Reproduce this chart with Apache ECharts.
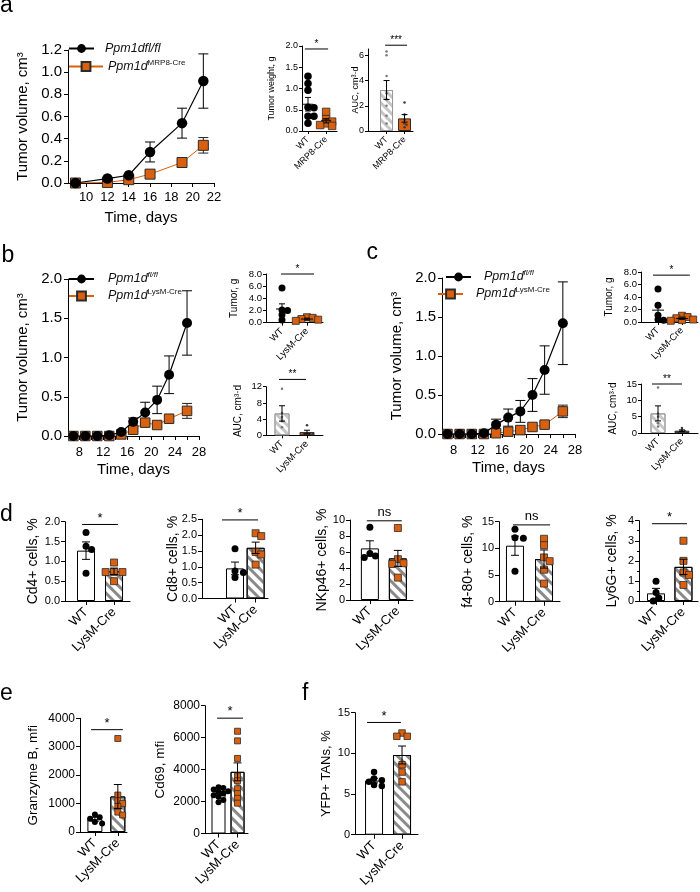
<!DOCTYPE html>
<html><head><meta charset="utf-8">
<script src="https://cdn.jsdelivr.net/npm/echarts@6/dist/echarts.min.js"></script>
<style>html,body{margin:0;padding:0;background:#fff}#c{width:700px;height:892px}</style>
</head><body><div id="c"></div><script>
// ---------------- data ----------------
const CATS_LYSM = ['WT', 'LysM-Cre'];
const CATS_MRP8 = ['WT', 'MRP8-Cre'];

// panel a (tumor growth)
const aDays = [9, 12, 14, 16, 19, 21];
const aFlMean = [0.00, 0.04, 0.07, 0.28, 0.54, 0.92];
const aFlSem = [0.00, 0.00, 0.00, 0.09, 0.135, 0.245];
const aCreMean = [0.00, 0.005, 0.03, 0.08, 0.185, 0.34];
const aCreSem = [0.00, 0.00, 0.00, 0.00, 0.025, 0.07];
const aTimeTicks = [10, 12, 14, 16, 18, 20, 22];
const aVolTicks = [0, 0.2, 0.4, 0.6, 0.8, 1.0, 1.2];

// panel b
const bDays = [7, 9, 11, 13, 15, 17, 19, 21, 23, 26];
const bFlMean = [0, 0, 0, 0.01, 0.05, 0.18, 0.30, 0.46, 0.78, 1.44];
const bFlSem = [0, 0, 0, 0, 0.02, 0.05, 0.13, 0.175, 0.24, 0.41];
const bCreMean = [0, 0, 0, 0, 0.02, 0.08, 0.17, 0.14, 0.22, 0.32];
const bCreSem = [0, 0, 0, 0, 0, 0.02, 0.03, 0.03, 0.04, 0.095];

// panel c
const cDays = [7, 9, 11, 13, 15, 17, 19, 21, 23, 26];
const cFlMean = [0, 0, 0, 0.01, 0.12, 0.21, 0.29, 0.50, 0.82, 1.42];
const cFlSem = [0, 0, 0, 0.01, 0.07, 0.11, 0.14, 0.21, 0.31, 0.53];
const cCreMean = [0, 0, 0, 0, 0.01, 0.03, 0.05, 0.09, 0.12, 0.29];
const cCreSem = [0, 0, 0, 0, 0, 0.01, 0.02, 0.02, 0.03, 0.08];
const bcTimeTicks = [8, 12, 16, 20, 24, 28];
const bcTimeMinor = [8, 10, 12, 14, 16, 18, 20, 22, 24, 26, 28];
const bcVolTicks = [0, 0.5, 1.0, 1.5, 2.0];

// small panels a
const aWeightWT = [1.29, 1.12, 0.96, 0.56, 0.55, 0.35, 0.35, 0.18];
const aWeightCre = [0.45, 0.28, 0.22, 0.18, 0.14, 0.12, 0.10];
const aWeightMean = [0.63, 0.24];
const aWeightSem = [0.16, 0.05];
const aAucWT = [6.3, 6.0, 4.35, 3.0, 2.5, 2.0, 1.2, 0.6];
const aAucCre = [2.25, 1.3, 0.9, 0.6, 0.5, 0.3];
const aAucMean = [3.25, 1.0];
const aAucSem = [0.75, 0.3];
// small panels b
const bTumWT = [5.7, 2.1, 2.0, 1.3, 0.45];
const bTumCre = [0.9, 0.8, 0.6, 0.5, 0.3];
const bTumMean = [2.25, 0.6];
const bTumSem = [0.85, 0.15];
const bAucWT = [11.5, 5.5, 4.5, 3.5, 2.0];
const bAucCre = [2.5, 0.5, 0.4, 0.3, 0.3];
const bAucMean = [5.4, 0.8];
const bAucSem = [1.9, 0.45];
// small panels c
const cTumWT = [5.3, 2.7, 1.1, 0.4, 0.3];
const cTumCre = [1.0, 0.8, 0.6, 0.4, 0.3, 0.2];
const cTumMean = [1.9, 0.55];
const cTumSem = [1.0, 0.12];
const cAucWT = [13.9, 6.0, 5.0, 3.0, 2.0];
const cAucCre = [1.5, 0.8, 0.5, 0.4, 0.3];
const cAucMean = [6.0, 0.7];
const cAucSem = [2.3, 0.25];
// panel d
const cd4WT = [1.73, 1.38, 1.30, 0.70];
const cd4Cre = [0.97, 0.73, 0.73, 0.73, 0.50];
const cd4Mean = [1.27, 0.75];
const cd4Sem = [0.22, 0.08];
const cd8WT = [1.57, 0.87, 0.82, 0.66];
const cd8Cre = [2.06, 1.97, 1.47, 1.39, 1.07];
const cd8Mean = [0.95, 1.60];
const cd8Sem = [0.20, 0.18];
const nkWT = [9.1, 5.8, 5.5, 5.3];
const nkCre = [9.0, 5.1, 4.6, 4.5, 2.8];
const nkMean = [6.45, 5.2];
const nkSem = [0.95, 1.0];
const f480WT = [13.6, 12.0, 11.9, 5.7];
const f480Cre = [11.8, 10.6, 8.3, 7.6, 6.0, 3.4];
const f480Mean = [10.5, 8.0];
const f480Sem = [1.8, 1.7];
const ly6gWT = [0.98, 0.42, 0.15, 0.0];
const ly6gCre = [3.0, 2.0, 1.42, 1.3, 0.8];
const ly6gMean = [0.38, 1.70];
const ly6gSem = [0.25, 0.38];
// panel e
const gzbWT = [620, 520, 470, 350, 300];
const gzbCre = [3290, 1300, 1100, 1000, 900, 700, 600];
const gzbMean = [450, 1250];
const gzbSem = [70, 420];
const cd69WT = [2900, 2850, 2750, 2650, 2600, 2500, 2400, 2300, 2100, 1950];
const cd69Cre = [6400, 5800, 4700, 3600, 3300, 2800, 2500, 2200, 1900];
const cd69Mean = [2500, 3860];
const cd69Sem = [100, 560];
// panel f
const yfpWT = [7.7, 6.9, 6.7, 6.5, 6.1, 6.0];
const yfpCre = [12.5, 12.1, 12.1, 8.6, 7.7, 6.5];
const yfpMean = [6.65, 9.8];
const yfpSem = [0.28, 1.1];

// ---------------- styles ----------------
const FONT = '"Liberation Sans", Arial, Helvetica, sans-serif';
const ORANGE = '#d8600f';
const EDGE = '#2b2b2b';
const HATCH = {symbol: 'rect', symbolSize: 1, dashArrayX: [1, 0], dashArrayY: [3, 4], rotation: Math.PI / 4, color: '#8a8a8a'};
const LIGHT_HATCH = {symbol: 'rect', symbolSize: 1, dashArrayX: [1, 0], dashArrayY: [3, 3], rotation: Math.PI / 4, color: '#c6c6c6'};
const BAR_STYLES = {
  white: {color: '#fff', borderColor: '#000', borderWidth: 1},
  hatch: {color: '#fff', borderColor: '#000', borderWidth: 1, decal: HATCH},
  light: {color: '#fff', borderColor: '#9a9a9a', borderWidth: 1, decal: LIGHT_HATCH},
  orange: {color: ORANGE, borderColor: EDGE, borderWidth: 1}
};

const grids = [], xAxes = [], yAxes = [], series = [], legends = [];

function lineAxis(extra) {
  return Object.assign({
    axisLine: {show: true, onZero: false, lineStyle: {color: '#000', width: 1}},
    splitLine: {show: false},
    nameMoveOverlap: false
  }, extra);
}

function errSeries(gi, data, color, capHalf, meanHalf) {
  return {
    type: 'custom', xAxisIndex: gi, yAxisIndex: gi, silent: true, z: 6, clip: false,
    data: data,
    renderItem: function (params, api) {
      const x = api.value(0), lo = api.value(1), hi = api.value(2), m = api.value(3);
      const t = api.coord([x, hi]), b = api.coord([x, lo]);
      const st = {stroke: color, lineWidth: 1};
      const ch = [
        {type: 'line', shape: {x1: t[0], y1: t[1], x2: b[0], y2: b[1]}, style: st},
        {type: 'line', shape: {x1: t[0] - capHalf, y1: t[1], x2: t[0] + capHalf, y2: t[1]}, style: st},
        {type: 'line', shape: {x1: b[0] - capHalf, y1: b[1], x2: b[0] + capHalf, y2: b[1]}, style: st}
      ];
      if (meanHalf) {
        const c = api.coord([x, m]);
        ch.push({type: 'line', shape: {x1: c[0] - meanHalf, y1: c[1], x2: c[0] + meanHalf, y2: c[1]}, style: st});
      }
      return {type: 'group', children: ch};
    }
  };
}

const LEGEND_TEXT = {
  aFl: '{i|Ppm1dfl/fl}',
  aCre: '{i|Ppm1d}{s|MRP8-Cre}',
  bFl: '{i|Ppm1d}{si|fl/fl}',
  bCre: '{i|Ppm1d}{s|LysM-Cre}',
  cFl: '{i|Ppm1d}{si|fl/fl}',
  cCre: '{i|Ppm1d}{s|LysM-Cre}'
};
function addLegend(name, left, cy, w, pad) {
  legends.push({
    data: [name], left: left, top: cy - 8, orient: 'vertical', itemWidth: w, itemHeight: 11, padding: 0,
    selectedMode: false,
    formatter: n => LEGEND_TEXT[n],
    textStyle: {
      color: '#000', fontFamily: FONT, fontSize: 12, padding: [0, 0, 0, pad],
      rich: {
        i: {fontSize: 12.5, fontStyle: 'italic', fontFamily: FONT, lineHeight: 16, color: '#111'},
        s: {fontSize: 8, fontFamily: FONT, verticalAlign: 'top', color: '#111'},
        si: {fontSize: 8, fontStyle: 'italic', fontFamily: FONT, verticalAlign: 'top', color: '#111'}
      }
    }
  });
}

function addLinePanel(p) {
  const gi = grids.length;
  grids.push({left: p.box[0], top: p.box[1], width: p.box[2], height: p.box[3]});
  xAxes.push(lineAxis({
    gridIndex: gi, type: 'value', min: p.x[0], max: p.x[1],
    axisTick: {show: true, length: 4, customValues: p.xMinor, lineStyle: {color: '#000'}},
    axisLabel: {customValues: p.xTicks, color: '#000', fontFamily: FONT, fontSize: 13, margin: p.xMargin, formatter: v => String(v)},
    name: 'Time, days', nameLocation: 'middle', nameGap: p.xNameGap,
    nameTextStyle: {color: '#000', fontFamily: FONT, fontSize: 15}
  }));
  yAxes.push(lineAxis({
    gridIndex: gi, type: 'value', min: 0, max: p.yTicks[p.yTicks.length - 1],
    axisTick: {show: true, length: 4, customValues: p.yTicks, lineStyle: {color: '#000'}},
    axisLabel: {customValues: p.yTicks, color: '#000', fontFamily: FONT, fontSize: 15, margin: 6, formatter: v => v.toFixed(1)},
    name: 'Tumor volume, cm³', nameLocation: 'middle', nameRotate: 90, nameGap: 38,
    nameTextStyle: {color: '#000', fontFamily: FONT, fontSize: 15}
  }));
  const errs = (mean, sem) => p.days.map((d, i) => [d, mean[i] - sem[i], mean[i] + sem[i], mean[i]]).filter((r, i) => sem[i] > 0.015);
  series.push(Object.assign(errSeries(gi, errs(p.flMean, p.flSem), '#000', 5, 0), {z: 2}));
  series.push(Object.assign(errSeries(gi, errs(p.creMean, p.creSem), '#222', 5, 0), {z: 2}));
  series.push({
    type: 'line', name: p.creName, xAxisIndex: gi, yAxisIndex: gi, silent: true, z: 3,
    data: p.days.map((d, i) => [d, p.creMean[i]]),
    symbol: 'rect', symbolSize: p.sym, showAllSymbol: true,
    itemStyle: {color: ORANGE, borderColor: EDGE, borderWidth: 1, opacity: 1},
    lineStyle: {color: ORANGE, width: 1}
  });
  series.push({
    type: 'line', name: p.flName, xAxisIndex: gi, yAxisIndex: gi, silent: true, z: 4,
    data: p.days.map((d, i) => [d, p.flMean[i]]),
    symbol: 'circle', symbolSize: p.sym + 0.5, showAllSymbol: true,
    itemStyle: {color: '#000', opacity: 1},
    lineStyle: {color: '#000', width: 1.2}
  });
}

function swarm(values, center, size, gapF, pxX, pxY) {
  const placed = [];
  const idx = values.map((v, i) => i).sort((a, b) => values[b] - values[a]);
  const res = [];
  const minD = size * gapF;
  idx.forEach(i => {
    const yp = values[i] * pxY;
    let off = 0;
    for (let k = 0; k < 40; k++) {
      const c = (k === 0 ? 0 : (k % 2 ? 1 : -1) * Math.ceil(k / 2)) * size * 0.4;
      if (placed.every(q => Math.hypot(q[0] - c, q[1] - yp) >= minD)) { off = c; break; }
    }
    placed.push([off, yp]);
    res[i] = [center + off / pxX, values[i]];
  });
  return res;
}

function addBarPanel(p) {
  const gi = grids.length;
  const [L, T, W, H] = p.box;
  grids.push({left: L, top: T, width: W, height: H});
  const tick = p.tick || 4;
  xAxes.push(lineAxis({
    gridIndex: gi, type: 'value', min: p.x[0], max: p.x[1],
    axisTick: {show: true, length: tick, customValues: [0, 1], lineStyle: {color: '#000'}},
    axisLabel: {customValues: [0, 1], rotate: 45, color: '#000', fontFamily: FONT, fontSize: p.catFs, margin: p.catMargin,
      formatter: v => p.cats[Math.round(v)]}
  }));
  const yInt = p.yTicks[1] - p.yTicks[0];
  const yAx = lineAxis({
    gridIndex: gi, type: 'value', min: p.y[0], max: p.y[1],
    axisTick: {show: true, length: tick, lineStyle: {color: '#000'}},
    axisLabel: {color: '#000', fontFamily: FONT, fontSize: p.fs, margin: p.margin, formatter: v => v.toFixed(p.dec)},
    name: p.title, nameLocation: 'middle', nameRotate: 90, nameGap: p.nameGap,
    nameTextStyle: {color: '#000', fontFamily: FONT, fontSize: p.titleFs}
  });
  if (p.minor) {
    yAx.interval = yInt;
    yAx.minorTick = {show: true, splitNumber: p.minor, length: 2, lineStyle: {color: '#000'}};
  } else {
    yAx.axisTick.customValues = p.yTicks;
    yAx.axisLabel.customValues = p.yTicks;
  }
  yAxes.push(yAx);
  const pxX = W / (p.x[1] - p.x[0]);
  const pxY = H / (p.y[1] - p.y[0]);
  if (p.bars) {
    series.push({
      type: 'bar', xAxisIndex: gi, yAxisIndex: gi, barWidth: p.barW, silent: true, z: 1,
      data: p.mean.map((m, i) => ({value: [i, m], itemStyle: BAR_STYLES[p.bars[i]]}))
    });
  }
  const tiny = p.dot < 4;
  const gapF = p.gapF || 0.9;
  series.push({
    type: 'scatter', xAxisIndex: gi, yAxisIndex: gi, silent: true, z: 3,
    data: swarm(p.wt, 0, p.dot, gapF, pxX, pxY),
    symbol: 'circle', symbolSize: p.dot,
    itemStyle: {color: tiny ? '#777' : '#000', opacity: 1}
  });
  series.push({
    type: 'scatter', xAxisIndex: gi, yAxisIndex: gi, silent: true, z: 3,
    data: swarm(p.cre, 1, p.dot, gapF, pxX, pxY),
    symbol: tiny ? 'circle' : 'rect', symbolSize: p.dot,
    itemStyle: tiny ? {color: '#3a3a3a', opacity: 1} : {color: ORANGE, borderColor: EDGE, borderWidth: 0.8, opacity: 1}
  });
  series.push(errSeries(gi, p.mean.map((m, i) => [i, Math.max(m - p.sem[i], 0), m + p.sem[i], m]), '#000', p.capHalf, p.meanHalf));
  // significance bracket
  series.push({
    type: 'custom', xAxisIndex: gi, yAxisIndex: gi, silent: true, z: 7, clip: false,
    data: [[p.sigX[0], p.sigX[1], p.sigY]],
    renderItem: function (params, api) {
      const a = api.coord([api.value(0), api.value(2)]);
      const b = api.coord([api.value(1), api.value(2)]);
      return {type: 'group', children: [
        {type: 'line', shape: {x1: a[0], y1: a[1], x2: b[0], y2: b[1]}, style: {stroke: '#000', lineWidth: 1}},
        {type: 'text', style: {text: p.sig, x: (a[0] + b[0]) / 2, y: a[1] - (p.sig === 'ns' ? 2 : 0), align: 'center', verticalAlign: 'bottom',
          textAlign: 'center', textVerticalAlign: 'bottom', fontSize: p.sigFs, fontFamily: FONT, fill: '#000'}}
      ]};
    }
  });
}

// ---------------- panels ----------------
addLinePanel({box: [68, 50, 146, 133], x: [8.3, 22], xTicks: aTimeTicks, xMinor: aTimeTicks, yTicks: aVolTicks,
  xMargin: 8, xNameGap: 27, days: aDays, flMean: aFlMean, flSem: aFlSem, creMean: aCreMean, creSem: aCreSem,
  flName: 'aFl', creName: 'aCre', sym: 10});
addLinePanel({box: [68, 279, 131, 157], x: [6.1, 28], xTicks: bcTimeTicks, xMinor: bcTimeMinor, yTicks: bcVolTicks,
  xMargin: 10, xNameGap: 26, days: bDays, flMean: bFlMean, flSem: bFlSem, creMean: bCreMean, creSem: bCreSem,
  flName: 'bFl', creName: 'bCre', sym: 9.5});
addLinePanel({box: [442, 278, 133, 156], x: [6.1, 28], xTicks: bcTimeTicks, xMinor: bcTimeMinor, yTicks: bcVolTicks,
  xMargin: 10, xNameGap: 26, days: cDays, flMean: cFlMean, flSem: cFlSem, creMean: cCreMean, creSem: cCreSem,
  flName: 'cFl', creName: 'cCre', sym: 9.5});

addLegend('aFl', 68, 50, 25, 6);
addLegend('aCre', 68, 66.5, 34, 0);
addLegend('bFl', 68, 279, 25, 9);
addLegend('bCre', 68, 296, 25, 9);
addLegend('cFl', 445, 277, 25, 8);
addLegend('cCre', 437, 294, 25, 8);

const smallCommon = {fs: 9, titleFs: 9, catFs: 9, catMargin: 7, tick: 3, margin: 4, sigFs: 10, capHalf: 3};
const barPanels = [
  Object.assign({}, smallCommon, {wt: aWeightWT, cre: aWeightCre, mean: aWeightMean, sem: aWeightSem, cats: CATS_MRP8,
    box: [302, 46, 35, 85], x: [-0.33, 1.6], y: [0, 2], yTicks: [0, 0.5, 1, 1.5, 2], dec: 1, gapF: 0.55,
    title: 'Tumor weight, g', nameGap: 26, dot: 7.5, meanHalf: 5, sig: '*', sigY: 1.93, sigX: [-0.17, 1.11]}),
  Object.assign({}, smallCommon, {wt: aAucWT, cre: aAucCre, mean: aAucMean, sem: aAucSem, cats: CATS_MRP8,
    box: [368, 49, 45, 82], x: [-1.03, 1.47], y: [0, 6.5], yTicks: [0, 2, 4, 6], dec: 0,
    title: 'AUC, cm³·d', nameGap: 8, dot: 2.5, bars: ['light', 'orange'], barW: 13, sig: '***', sigY: 6.8, sigX: [-0.08, 1.14]}),
  Object.assign({}, smallCommon, {wt: bTumWT, cre: bTumCre, mean: bTumMean, sem: bTumSem, cats: CATS_LYSM,
    box: [266, 274, 57, 48.7], x: [-0.64, 1.64], y: [0, 8], yTicks: [0, 2, 4, 6, 8], dec: 1, fs: 9.5, titleFs: 10, catFs: 9.5,
    gapF: 0.6, title: 'Tumor, g', nameGap: 27, dot: 7, meanHalf: 6, sig: '*', sigY: 8.0, sigX: [-0.04, 1.28]}),
  Object.assign({}, smallCommon, {wt: bAucWT, cre: bAucCre, mean: bAucMean, sem: bAucSem, cats: CATS_LYSM,
    box: [266, 386.7, 57, 48.6], x: [-0.64, 1.64], y: [0, 12], yTicks: [0, 4, 8, 12], dec: 0, fs: 9.5, titleFs: 10, catFs: 9.5,
    title: 'AUC, cm³·d', nameGap: 23, dot: 2.5, bars: ['light', 'orange'], barW: 15, sig: '**', sigY: 13.8, sigX: [-0.12, 0.96]}),
  Object.assign({}, smallCommon, {wt: cTumWT, cre: cTumCre, mean: cTumMean, sem: cTumSem, cats: CATS_LYSM,
    box: [641, 272, 57, 50], x: [-0.71, 1.67], y: [0, 8], yTicks: [0, 2, 4, 6, 8], dec: 1, fs: 9.5, titleFs: 10, catFs: 9.5,
    gapF: 0.6, title: 'Tumor, g', nameGap: 27, dot: 7, meanHalf: 6, sig: '*', sigY: 7.5, sigX: [-0.21, 1.33]}),
  Object.assign({}, smallCommon, {wt: cAucWT, cre: cAucCre, mean: cAucMean, sem: cAucSem, cats: CATS_LYSM,
    box: [641, 384, 57, 49], x: [-0.71, 1.67], y: [0, 15], yTicks: [0, 5, 10, 15], dec: 0, fs: 9.5, titleFs: 10, catFs: 9.5,
    title: 'AUC, cm³·d', nameGap: 23, dot: 2.5, bars: ['light', 'orange'], barW: 15, sig: '**', sigY: 15, sigX: [-0.25, 1.0]}),
];
const dCommon = {fs: 11, titleFs: 14, catFs: 13, catMargin: 9, tick: 4, margin: 5, sigFs: 13, capHalf: 4, dot: 7, gapF: 0.85,
  bars: ['white', 'hatch'], barW: 18, cats: CATS_LYSM};
barPanels.push(
  Object.assign({}, dCommon, {wt: cd4WT, cre: cd4Cre, mean: cd4Mean, sem: cd4Sem, box: [65, 521.7, 65, 79.3],
    x: [-0.75, 1.57], y: [0, 2], yTicks: [0, 0.5, 1, 1.5, 2], dec: 1, title: 'Cd4+ cells, %', nameGap: 25,
    sig: '*', sigY: 1.93, sigX: [-0.14, 1.14]}),
  Object.assign({}, dCommon, {wt: cd8WT, cre: cd8Cre, mean: cd8Mean, sem: cd8Sem, box: [202, 519.3, 66, 79.2],
    x: [-1.6, 1.6], y: [0, 2.5], yTicks: [0, 0.5, 1, 1.5, 2, 2.5], dec: 1, title: 'Cd8+ cells, %', nameGap: 22,
    sig: '*', sigY: 2.48, sigX: [-0.63, 1.12]}),
  Object.assign({}, dCommon, {wt: nkWT, cre: nkCre, mean: nkMean, sem: nkSem, box: [350, 520, 63, 80],
    x: [-0.71, 1.54], y: [0, 10], yTicks: [0, 2, 4, 6, 8, 10], dec: 0, title: 'NKp46+ cells, %', nameGap: 21,
    sig: 'ns', sigY: 9.9, sigX: [-0.11, 1.14]}),
  Object.assign({}, dCommon, {wt: f480WT, cre: f480Cre, mean: f480Mean, sem: f480Sem, box: [499, 521.7, 61, 80],
    x: [-0.55, 1.55], y: [0, 15], yTicks: [0, 5, 10, 15], dec: 0, title: 'f4-80+ cells, %', nameGap: 24,
    sig: 'ns', sigY: 14.4, sigX: [-0.07, 1.21]}),
  Object.assign({}, dCommon, {wt: ly6gWT, cre: ly6gCre, mean: ly6gMean, sem: ly6gSem, box: [639, 520.7, 59, 80.3],
    x: [-0.62, 1.53], y: [0, 4], yTicks: [0, 1, 2, 3, 4], dec: 0, minor: 2, title: 'Ly6G+ cells, %', nameGap: 20,
    sig: '*', sigY: 3.85, sigX: [-0.15, 1.13]}),
  Object.assign({}, dCommon, {wt: gzbWT, cre: gzbCre, mean: gzbMean, sem: gzbSem, box: [80, 718.3, 47, 113.7],
    x: [-0.65, 1.4], y: [0, 4000], yTicks: [0, 1000, 2000, 3000, 4000], dec: 0, fs: 12, titleFs: 13.5, dot: 6, barW: 15,
    title: 'Granzyme B, mfi', nameGap: 40, sig: '*', sigY: 3600, sigX: [-0.17, 1.22]}),
  Object.assign({}, dCommon, {wt: cd69WT, cre: cd69Cre, mean: cd69Mean, sem: cd69Sem, box: [205, 705.7, 43, 127.8],
    x: [-0.71, 1.55], y: [0, 8000], yTicks: [0, 2000, 4000, 6000, 8000], dec: 0, fs: 12, titleFs: 13.5, dot: 6, barW: 14,
    gapF: 0.7, title: 'Cd69, mfi', nameGap: 38, sig: '*', sigY: 7220, sigX: [-0.08, 1.29]}),
  Object.assign({}, dCommon, {wt: yfpWT, cre: yfpCre, mean: yfpMean, sem: yfpSem, box: [355, 712.7, 63, 122],
    x: [-0.68, 1.57], y: [0, 15], yTicks: [0, 5, 10, 15], dec: 0, fs: 11, titleFs: 13, dot: 6.5,
    title: 'YFP+ TANs, %', nameGap: 22, sig: '*', sigY: 13.8, sigX: [-0.25, 0.96]})
);
barPanels.forEach(addBarPanel);

const LETTERS = [['a', 0, -5.5], ['b', 1.5, 244], ['c', 366.5, 241.5], ['d', 0, 503.5], ['e', 0, 682], ['f', 302, 682]];

const chart = echarts.init(document.getElementById('c'), null, {renderer: 'canvas'});
chart.setOption({
  animation: false,
  backgroundColor: '#fff',
  textStyle: {fontFamily: FONT},
  title: LETTERS.map(l => ({text: l[0], left: l[1], top: l[2], padding: 0,
    textStyle: {fontSize: 23, fontWeight: 'normal', fontFamily: FONT, color: '#000'}})),
  legend: legends,
  grid: grids,
  xAxis: xAxes,
  yAxis: yAxes,
  series: series
});
</script></body></html>
